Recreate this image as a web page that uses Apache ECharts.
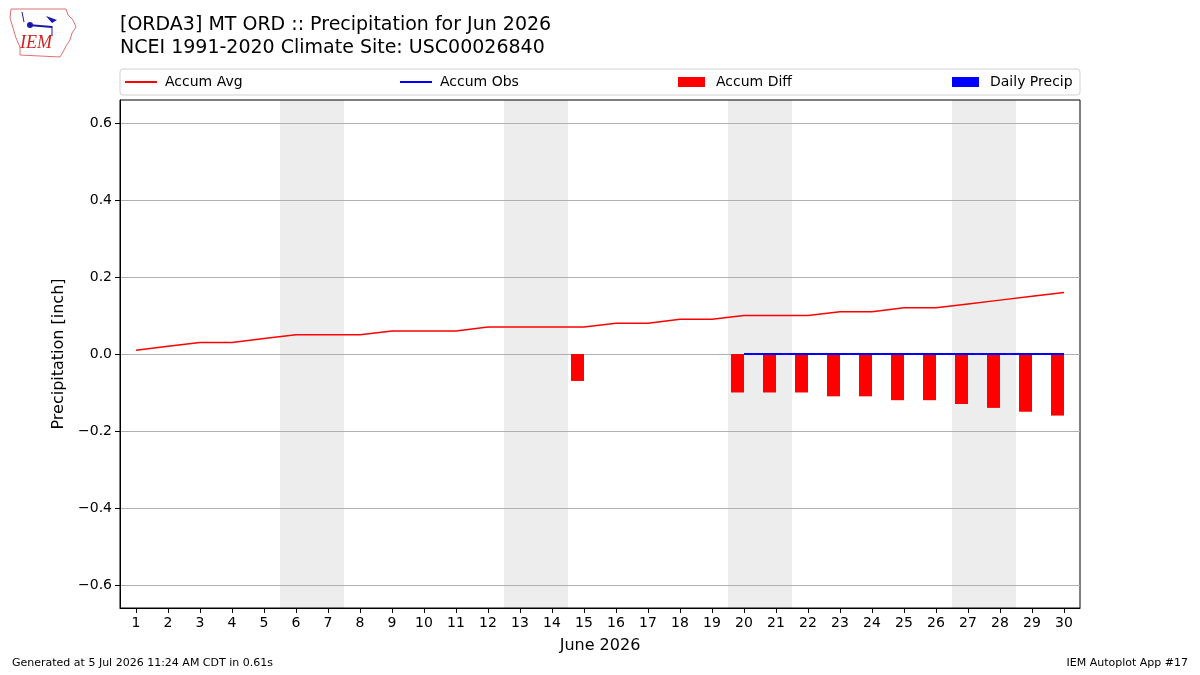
<!DOCTYPE html>
<html>
<head>
<meta charset="utf-8">
<script src="https://cdn.jsdelivr.net/npm/echarts@6/dist/echarts.min.js"></script>
<style>
  html, body { margin: 0; padding: 0; background: #fff; }
  #main { width: 1200px; height: 675px; }
</style>
</head>
<body>
<div id="main"></div>
<script>
// day of month, June 2026
var days = [1, 2, 3, 4, 5, 6, 7, 8, 9, 10, 11, 12, 13, 14, 15,
            16, 17, 18, 19, 20, 21, 22, 23, 24, 25, 26, 27, 28, 29, 30];
// climatology accumulated precip (inch)
var accumAvg = [0.01, 0.02, 0.03, 0.03, 0.04, 0.05, 0.05, 0.05, 0.06, 0.06,
                0.06, 0.07, 0.07, 0.07, 0.07, 0.08, 0.08, 0.09, 0.09, 0.10,
                0.10, 0.10, 0.11, 0.11, 0.12, 0.12, 0.13, 0.14, 0.15, 0.16];
// observed accumulation, only from the 20th
var obsDays = [20, 21, 22, 23, 24, 25, 26, 27, 28, 29, 30];
var accumObs = [0, 0, 0, 0, 0, 0, 0, 0, 0, 0, 0];
var dailyPrecip = [0, 0, 0, 0, 0, 0, 0, 0, 0, 0, 0];
// departure bars
var diffDays = [15, 20, 21, 22, 23, 24, 25, 26, 27, 28, 29, 30];
var accumDiff = [-0.07, -0.10, -0.10, -0.10, -0.11, -0.11, -0.12, -0.12, -0.13, -0.14, -0.15, -0.16];
// weekends shaded
var weekends = [[6, 7], [13, 14], [20, 21], [27, 28]];
var yTicks = [-0.6, -0.4, -0.2, 0.0, 0.2, 0.4, 0.6];

function pairs(xs, ys) {
    var out = [];
    for (var i = 0; i < xs.length; i++) {
        out.push([xs[i], ys[i]]);
    }
    return out;
}

var chart = echarts.init(document.getElementById('main'), null, {renderer: 'canvas'});
var font = 'DejaVu Sans';

var legendItems = [
    {name: 'Accum Avg', left: 120, w: 32, h: 2, pad: 3},
    {name: 'Accum Obs', left: 395, w: 32, h: 2, pad: 3},
    {name: 'Accum Diff', left: 673, w: 27, h: 10, pad: 6},
    {name: 'Daily Precip', left: 947, w: 27, h: 10, pad: 6}
];

var option = {
    backgroundColor: '#fff',
    animation: false,
    textStyle: {fontFamily: font},
    title: {
        text: '[ORDA3] MT ORD :: Precipitation for Jun 2026\nNCEI 1991-2020 Climate Site: USC00026840',
        left: 115,
        top: 9,
        textStyle: {fontFamily: font, fontSize: 19, fontWeight: 'normal', color: '#000', lineHeight: 23}
    },
    legend: legendItems.map(function (it) {
        return {
            data: [{name: it.name, icon: 'rect'}],
            left: it.left,
            top: 70,
            itemWidth: it.w,
            itemHeight: it.h,
            itemGap: 8,
            selectedMode: false,
            textStyle: {fontFamily: font, fontSize: 14, color: '#000', padding: [0, 0, 0, it.pad]}
        };
    }),
    grid: {
        left: 120, right: 120, top: 100, bottom: 67,
        show: true, borderColor: '#000', borderWidth: 1, backgroundColor: 'transparent'
    },
    xAxis: {
        type: 'value',
        min: 0.5,
        max: 30.5,
        name: 'June 2026',
        nameLocation: 'middle',
        nameGap: 30,
        nameTextStyle: {fontFamily: font, fontSize: 16, color: '#000'},
        axisLine: {show: true, onZero: false, lineStyle: {color: '#000', width: 1}},
        axisTick: {show: true, customValues: days, length: 5, lineStyle: {color: '#000'}},
        axisLabel: {customValues: days, fontSize: 14, color: '#000', margin: 8},
        splitLine: {show: false}
    },
    yAxis: {
        type: 'value',
        min: -0.66,
        max: 0.66,
        minInterval: 0.2,
        maxInterval: 0.2,
        name: 'Precipitation [inch]',
        nameLocation: 'middle',
        nameGap: 47,
        nameTextStyle: {fontFamily: font, fontSize: 16, color: '#000'},
        axisLine: {show: true, onZero: false, lineStyle: {color: '#000', width: 1}},
        axisTick: {show: true, customValues: yTicks, length: 5, lineStyle: {color: '#000'}},
        axisLabel: {
            customValues: yTicks,
            fontSize: 14, color: '#000', margin: 8,
            formatter: function (v) {
                var s = v.toFixed(1);
                return s.charAt(0) === '-' ? '\u2212' + s.slice(1) : s;
            }
        },
        splitLine: {show: true, lineStyle: {color: '#b0b0b0', width: 1}}
    },
    graphic: [
        // legend frame
        {type: 'rect', shape: {x: 120, y: 69, width: 960, height: 26, r: 3},
         style: {fill: 'none', stroke: '#d0d0d0', lineWidth: 1}, z: -1},
        // IEM logo (rough)
        {type: 'polyline', shape: {points: [[11, 9], [66, 9], [68, 15], [73, 20], [76, 27], [72, 33], [70, 40], [66, 46], [63, 52], [60, 57], [20, 55], [20, 47], [16, 38], [13, 28], [10, 18], [11, 9]]},
         style: {fill: 'none', stroke: '#e07070', lineWidth: 1}},
        {type: 'line', shape: {x1: 28, y1: 25, x2: 52, y2: 27}, style: {stroke: '#1a1aa8', lineWidth: 2}},
        {type: 'circle', shape: {cx: 30, cy: 25, r: 3}, style: {fill: '#1a1aa8'}},
        {type: 'polygon', shape: {points: [[46, 16], [57, 20], [52, 23]]}, style: {fill: '#1a1aa8'}},
        {type: 'line', shape: {x1: 52, y1: 26, x2: 52, y2: 36}, style: {stroke: '#1a1aa8', lineWidth: 1}},
        {type: 'line', shape: {x1: 22, y1: 12, x2: 24, y2: 22}, style: {stroke: '#1a1aa8', lineWidth: 1}},
        {type: 'text', left: 20, top: 34,
         style: {text: 'IEM', font: 'italic 18px "Liberation Serif"', fill: '#d02020'}},
        // footer
        {type: 'text', left: 12, top: 658,
         style: {text: 'Generated at 5 Jul 2026 11:24 AM CDT in 0.61s', font: '11px "DejaVu Sans"', fill: '#000'}},
        {type: 'text', right: 12, top: 658,
         style: {text: 'IEM Autoplot App #17', font: '11px "DejaVu Sans"', fill: '#000'}}
    ],
    series: [
        {
            name: 'Accum Avg',
            type: 'line',
            data: pairs(days, accumAvg),
            showSymbol: false,
            color: '#ff0000',
            lineStyle: {width: 1.5, color: '#ff0000'},
            z: 5,
            markArea: {
                silent: true,
                itemStyle: {color: '#ededed'},
                data: weekends.map(function (w) {
                    return [{xAxis: w[0] - 0.5}, {xAxis: w[1] + 0.5}];
                }),
                z: -10
            }
        },
        {
            name: 'Accum Obs',
            type: 'line',
            data: pairs(obsDays, accumObs),
            showSymbol: false,
            color: '#0000ff',
            lineStyle: {width: 2, color: '#0000ff'},
            z: 6
        },
        {
            name: 'Accum Diff',
            type: 'bar',
            data: pairs(diffDays, accumDiff),
            color: '#ff0000',
            barWidth: 13,
            barGap: '0%',
            z: 3
        },
        {
            name: 'Daily Precip',
            type: 'bar',
            data: pairs(obsDays, dailyPrecip),
            color: '#0000ff',
            barWidth: 13,
            barGap: '0%',
            z: 3
        }
    ]
};

chart.setOption(option);
</script>
</body>
</html>
